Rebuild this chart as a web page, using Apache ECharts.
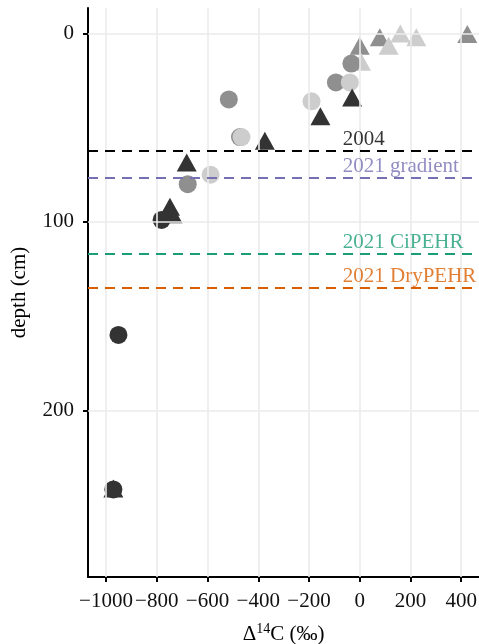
<!DOCTYPE html>
<html><head><meta charset="utf-8">
<script src="https://cdn.jsdelivr.net/npm/echarts@6/dist/echarts.min.js"></script>
<style>html,body{margin:0;padding:0;background:#fff}#c{width:479px;height:644px}</style>
</head><body><div id="c"></div>
<script>
// ---- data ----
const xTicks = [-1000, -800, -600, -400, -200, 0, 200, 400];
const yTicks = [0, 100, 200];
const darkCircles = [[-781, 99], [-951, 160], [-971, 242]];
const darkTriangles = [[-30, 34], [-155, 44], [-374, 57], [-682, 68.5], [-748, 92], [-738, 96], [-971, 241.5]];
const midCircles = [[-33, 16], [-94, 26], [-516, 35], [-472, 55], [-678, 80]];
const midTriangles = [[424, 0.3], [79, 2], [0, 6.6]];
const lightCircles = [[-39, 26], [-190, 36], [-466, 55], [-588, 75]];
const lightTriangles = [[160, 0], [223, 2], [114, 6.6], [5, 15]];
const refLabels = ['2004', '2021 gradient', '2021 CiPEHR', '2021 DryPEHR'];
const refDepths = [62, 76.5, 117, 135];
const refColors = ['#000000', '#7570B3', '#1B9E77', '#D95F02'];
const labelX = -67;

// ---- style ----
const FONT = 'Liberation Serif';
const DARK = '#333333', MID = '#8f8f8f', LIGHT = '#cdcdcd';
const fmt = v => v < 0 ? '\u2212' + Math.abs(v) : String(v);

function pts(name, data, color, symbol, size, z) {
  return { name, type: 'scatter', data, symbol, symbolSize: size, z,
    itemStyle: { color, opacity: 1 }, silent: true };
}

const chart = echarts.init(document.getElementById('c'), null, { renderer: 'canvas' });
chart.setOption({
  animation: false,
  backgroundColor: '#ffffff',
  grid: { left: 88, right: 0, top: 8, bottom: 67, containLabel: false, outerBoundsMode: 'none' },
  xAxis: {
    type: 'value', min: -1071, max: 470,
    name: '{a|\u0394}{s|14}{a|C (\u2030)}', nameLocation: 'middle', nameGap: 45,
    nameTextStyle: { rich: {
      a: { fontFamily: FONT, fontSize: 21, color: '#000', lineHeight: 24 },
      s: { fontFamily: FONT, fontSize: 14, color: '#000', verticalAlign: 'top', lineHeight: 14 }
    } },
    axisLine: { show: true, onZero: false, lineStyle: { color: '#000', width: 2 } },
    axisTick: { show: true, length: 5, customValues: xTicks, lineStyle: { color: '#000', width: 2 } },
    axisLabel: { show: true, customValues: xTicks, formatter: fmt, margin: 14,
      fontFamily: FONT, fontSize: 21, color: '#111' },
    splitLine: { show: false }
  },
  yAxis: {
    type: 'value', inverse: true, min: -13.5, max: 288.5,
    name: 'depth (cm)', nameLocation: 'middle', nameGap: 58, nameRotate: 90,
    nameTextStyle: { fontFamily: FONT, fontSize: 21, color: '#000' },
    axisLine: { show: true, onZero: false, lineStyle: { color: '#000', width: 2 } },
    axisTick: { show: true, length: 5, customValues: yTicks, lineStyle: { color: '#000', width: 2 } },
    axisLabel: { show: true, customValues: yTicks, formatter: fmt, margin: 14,
      fontFamily: FONT, fontSize: 21, color: '#111' },
    splitLine: { show: false }
  },
  series: [
    { name: 'grid', type: 'scatter', data: [], z: 0, silent: true,
      markLine: { silent: true, symbol: ['none', 'none'], label: { show: false },
        lineStyle: { color: '#ebebeb', width: 1.6, type: 'solid' },
        data: xTicks.map(v => ({ xAxis: v })).concat(yTicks.map(v => ({ yAxis: v }))) } },
    pts('midTri', midTriangles, MID, 'triangle', [20, 18], 2),
    pts('lightTri', lightTriangles, LIGHT, 'triangle', [20, 18], 2),
    pts('midCirc', midCircles, MID, 'circle', 18, 3),
    pts('lightCirc', lightCircles, LIGHT, 'circle', 18, 3),
    pts('darkTri', darkTriangles, DARK, 'triangle', [20, 18], 4),
    pts('darkCirc', darkCircles, DARK, 'circle', 18, 4),
    { name: 'refs', type: 'scatter', data: [], z: 5, silent: true,
      markLine: { silent: true, symbol: ['none', 'none'], label: { show: false },
        data: refDepths.map((d, i) => ({ yAxis: d,
          lineStyle: { color: refColors[i], width: 2, type: [10, 7] } })) } },
    { name: 'refLabels', type: 'scatter', z: 6, silent: true, symbolSize: 0,
      data: refDepths.map((d, i) => ({ name: refLabels[i], value: [labelX, d],
        label: { color: refColors[i] } })),
      label: { show: true, position: 'right', distance: 0, offset: [0, -11],
        formatter: '{b}', fontFamily: FONT, fontSize: 21 } }
  ]
});
</script></body></html>
